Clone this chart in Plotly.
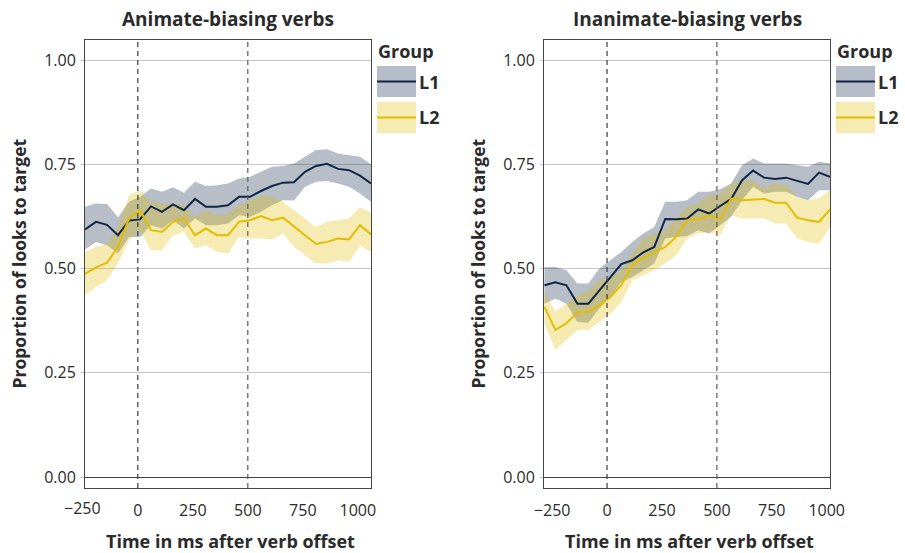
import plotly.graph_objects as go

# Time bins (ms after verb offset)
time_animate = [-240, -190, -140, -90, -40, 10, 60, 110, 160, 210, 260, 310, 360, 410,
                460, 510, 560, 610, 660, 710, 760, 810, 860, 910, 960, 1010, 1060]
time_inanimate = [-285, -235, -185, -135, -85, -35, 15, 65, 115, 165, 215, 265, 315, 365,
                  415, 465, 515, 565, 615, 665, 715, 765, 815, 865, 915, 965, 1015]

# Animate-biasing verbs: mean proportion and ribbon bounds
anim_l1_mean = [0.594, 0.612, 0.605, 0.580, 0.615, 0.618, 0.649, 0.636, 0.654, 0.640, 0.667, 0.648, 0.648, 0.652,
                0.672, 0.672, 0.686, 0.698, 0.706, 0.707, 0.732, 0.746, 0.751, 0.739, 0.736, 0.723, 0.704]
anim_l1_upper = [0.648, 0.656, 0.655, 0.623, 0.660, 0.672, 0.692, 0.684, 0.695, 0.682, 0.708, 0.698, 0.700, 0.704,
                 0.716, 0.720, 0.732, 0.744, 0.746, 0.752, 0.768, 0.784, 0.786, 0.776, 0.772, 0.768, 0.750]
anim_l1_lower = [0.546, 0.564, 0.556, 0.536, 0.576, 0.576, 0.604, 0.596, 0.616, 0.596, 0.620, 0.604, 0.604, 0.608,
                 0.628, 0.624, 0.636, 0.652, 0.664, 0.663, 0.696, 0.708, 0.710, 0.704, 0.696, 0.680, 0.660]

anim_l2_mean = [0.487, 0.503, 0.514, 0.552, 0.620, 0.640, 0.592, 0.588, 0.612, 0.620, 0.580, 0.596, 0.580, 0.580,
                0.612, 0.616, 0.626, 0.616, 0.622, 0.600, 0.580, 0.559, 0.564, 0.572, 0.570, 0.604, 0.582]
anim_l2_upper = [0.540, 0.552, 0.560, 0.600, 0.676, 0.688, 0.660, 0.656, 0.656, 0.652, 0.624, 0.640, 0.628, 0.632,
                 0.652, 0.664, 0.676, 0.672, 0.660, 0.640, 0.620, 0.600, 0.612, 0.616, 0.620, 0.647, 0.634]
anim_l2_lower = [0.436, 0.456, 0.472, 0.512, 0.568, 0.592, 0.544, 0.544, 0.580, 0.588, 0.548, 0.556, 0.540, 0.536,
                 0.576, 0.572, 0.572, 0.570, 0.584, 0.552, 0.532, 0.512, 0.512, 0.520, 0.516, 0.556, 0.540]

# Inanimate-biasing verbs
inan_l1_mean = [0.460, 0.467, 0.460, 0.416, 0.416, 0.448, 0.480, 0.511, 0.520, 0.539, 0.552, 0.619, 0.618, 0.620,
                0.642, 0.632, 0.650, 0.667, 0.712, 0.735, 0.718, 0.715, 0.718, 0.710, 0.703, 0.730, 0.720]
inan_l1_upper = [0.504, 0.504, 0.496, 0.464, 0.464, 0.500, 0.520, 0.540, 0.564, 0.584, 0.600, 0.660, 0.660, 0.664,
                 0.684, 0.684, 0.690, 0.704, 0.748, 0.764, 0.752, 0.752, 0.752, 0.748, 0.744, 0.756, 0.752]
inan_l1_lower = [0.416, 0.428, 0.416, 0.372, 0.370, 0.405, 0.432, 0.468, 0.480, 0.496, 0.512, 0.572, 0.576, 0.578,
                 0.592, 0.584, 0.604, 0.624, 0.664, 0.696, 0.680, 0.684, 0.684, 0.672, 0.664, 0.688, 0.688]

inan_l2_mean = [0.408, 0.353, 0.369, 0.395, 0.397, 0.412, 0.432, 0.460, 0.508, 0.526, 0.539, 0.552, 0.576, 0.616,
                0.618, 0.628, 0.618, 0.668, 0.664, 0.666, 0.667, 0.658, 0.658, 0.622, 0.616, 0.612, 0.642]
inan_l2_upper = [0.444, 0.397, 0.416, 0.436, 0.448, 0.472, 0.480, 0.496, 0.536, 0.572, 0.584, 0.592, 0.620, 0.648,
                 0.656, 0.676, 0.680, 0.704, 0.712, 0.712, 0.692, 0.704, 0.700, 0.672, 0.664, 0.668, 0.688]
inan_l2_lower = [0.369, 0.305, 0.329, 0.353, 0.353, 0.372, 0.392, 0.420, 0.472, 0.484, 0.496, 0.512, 0.532, 0.572,
                 0.584, 0.588, 0.580, 0.628, 0.620, 0.620, 0.620, 0.608, 0.608, 0.572, 0.564, 0.560, 0.600]

x_tick_vals = [-250, 0, 250, 500, 750, 1000]
x_tick_text = ["\u2212250", "0", "250", "500", "750", "1000"]
y_tick_vals = [0.0, 0.25, 0.5, 0.75, 1.0]
y_tick_text = ["0.00", "0.25", "0.50", "0.75", "1.00"]
panel_titles = ["Animate-biasing verbs", "Inanimate-biasing verbs"]
groups = ["L1", "L2"]
marker_times = [0, 500]

W, H = 905, 553
FONT = "Open Sans"
TXT = "#2a2a2a"
L1_LINE = "#0f2747"
L2_LINE = "#e2bd00"
L1_FILL = "rgba(15,39,71,0.30)"
L2_FILL = "rgba(226,189,0,0.30)"
L1_KEY = "#b7bdc8"
L2_KEY = "#f6ebb3"
TICK_SIZE = 16
X_LABEL_GAP = 8


def px_x(p):
    return p / W


def px_y(p):
    return 1 - p / H


fig = go.Figure()

panels = [
    (time_animate, [(anim_l1_mean, anim_l1_lower, anim_l1_upper), (anim_l2_mean, anim_l2_lower, anim_l2_upper)], "x", "y"),
    (time_inanimate, [(inan_l1_mean, inan_l1_lower, inan_l1_upper), (inan_l2_mean, inan_l2_lower, inan_l2_upper)], "x2", "y2"),
]
line_colors = [L1_LINE, L2_LINE]
fill_colors = [L1_FILL, L2_FILL]

for t, series, xa, ya in panels:
    # ribbons first, lines on top
    for (mean, lo, hi), fc in zip(series, fill_colors):
        fig.add_trace(go.Scatter(x=t + t[::-1], y=hi + lo[::-1], fill="toself", fillcolor=fc,
                                 line=dict(width=0), mode="lines", hoverinfo="skip",
                                 showlegend=False, xaxis=xa, yaxis=ya))
    for (mean, lo, hi), lc, g in zip(series, line_colors, groups):
        fig.add_trace(go.Scatter(x=t, y=mean, mode="lines", line=dict(color=lc, width=2),
                                 name=g, showlegend=False, xaxis=xa, yaxis=ya))

# panel boxes in pixels: left/right edges, shared top/bottom
box_top, box_bottom = 40, 488
boxes = [(85, 371), (544, 830)]
x_ranges = [[time_animate[0], time_animate[-1]], [-287, time_inanimate[-1]]]

axis_common = dict(showline=True, linecolor="#444", linewidth=1, mirror=True, automargin=False,
                   tickfont=dict(family=FONT, size=TICK_SIZE, color=TXT))
for i, ((l, r), xr) in enumerate(zip(boxes, x_ranges)):
    sfx = "" if i == 0 else str(i + 1)
    fig.update_layout(**{
        "xaxis" + sfx: dict(axis_common, domain=[px_x(l), px_x(r)], range=xr, anchor="y" + sfx,
                            tickvals=x_tick_vals, ticktext=x_tick_text, showgrid=False,
                            zeroline=False, ticks="", ticklabelstandoff=X_LABEL_GAP),
        "yaxis" + sfx: dict(axis_common, domain=[px_y(box_bottom), px_y(box_top)], range=[-0.026, 1.048],
                            anchor="x" + sfx, tickvals=y_tick_vals, ticktext=y_tick_text,
                            showgrid=True, gridcolor="#c6c6c6", gridwidth=1,
                            zeroline=True, zerolinecolor="#444", zerolinewidth=1,
                            ticks="outside", ticklen=3, tickcolor="#c6c6c6", ticklabelstandoff=2),
    })
    # the -250 label sits just left of the first time bin, outside the axis range
    if x_tick_vals[0] < xr[0]:
        lab_px = l + (x_tick_vals[0] - xr[0]) / (xr[1] - xr[0]) * (r - l)
        fig.add_annotation(text=x_tick_text[0], xref="paper", yref="paper", x=px_x(lab_px),
                           y=px_y(box_bottom + X_LABEL_GAP - 1), xanchor="center", yanchor="top",
                           showarrow=False, font=dict(family=FONT, size=TICK_SIZE, color=TXT))
    for mt, col in zip(marker_times, ["#3a3a3a", "#5a5a5a"]):
        fig.add_shape(type="line", xref="x" + sfx, yref="y" + sfx + " domain", x0=mt, x1=mt, y0=0, y1=1,
                      line=dict(color=col, width=1.2, dash="5px,4px"))

    cx = (l + r) / 2
    fig.add_annotation(text="<b>%s</b>" % panel_titles[i], xref="paper", yref="paper",
                       x=px_x(cx), y=px_y(19), xanchor="center", yanchor="middle", showarrow=False,
                       font=dict(family=FONT, size=19, color=TXT))
    fig.add_annotation(text="<b>Time in ms after verb offset</b>", xref="paper", yref="paper",
                       x=px_x(cx + 2), y=px_y(541), xanchor="center", yanchor="middle", showarrow=False,
                       font=dict(family=FONT, size=18, color=TXT))
    fig.add_annotation(text="<b>Proportion of looks to target</b>", xref="paper", yref="paper",
                       x=px_x(l - 66.5), y=px_y(264), xanchor="center", yanchor="middle", showarrow=False,
                       textangle=-90, font=dict(family=FONT, size=17.5, color=TXT))

    # legend: filled key with line, then label
    kx0 = r + 6
    fig.add_annotation(text="<b>Group</b>", xref="paper", yref="paper", x=px_x(kx0 - 1), y=px_y(51),
                       xanchor="left", yanchor="middle", showarrow=False,
                       font=dict(family=FONT, size=18, color=TXT))
    for j, (g, kc, lc) in enumerate(zip(groups, [L1_KEY, L2_KEY], line_colors)):
        ky0 = 66 + 36 * j
        ky1 = ky0 + 31
        fig.add_shape(type="rect", xref="paper", yref="paper", x0=px_x(kx0), x1=px_x(kx0 + 39),
                      y0=px_y(ky1), y1=px_y(ky0), fillcolor=kc, line=dict(width=0))
        fig.add_shape(type="line", xref="paper", yref="paper", x0=px_x(kx0), x1=px_x(kx0 + 39),
                      y0=px_y((ky0 + ky1) / 2), y1=px_y((ky0 + ky1) / 2), line=dict(color=lc, width=2))
        fig.add_annotation(text="<b>%s</b>" % g, xref="paper", yref="paper", x=px_x(kx0 + 40),
                           y=px_y((ky0 + ky1) / 2), xanchor="left", yanchor="middle", showarrow=False,
                           font=dict(family=FONT, size=18, color=TXT))

fig.update_layout(width=W, height=H, margin=dict(l=0, r=0, t=0, b=0), autosize=False,
                  template="none", paper_bgcolor="white", plot_bgcolor="white", showlegend=False)

fig.write_html("out.html")
